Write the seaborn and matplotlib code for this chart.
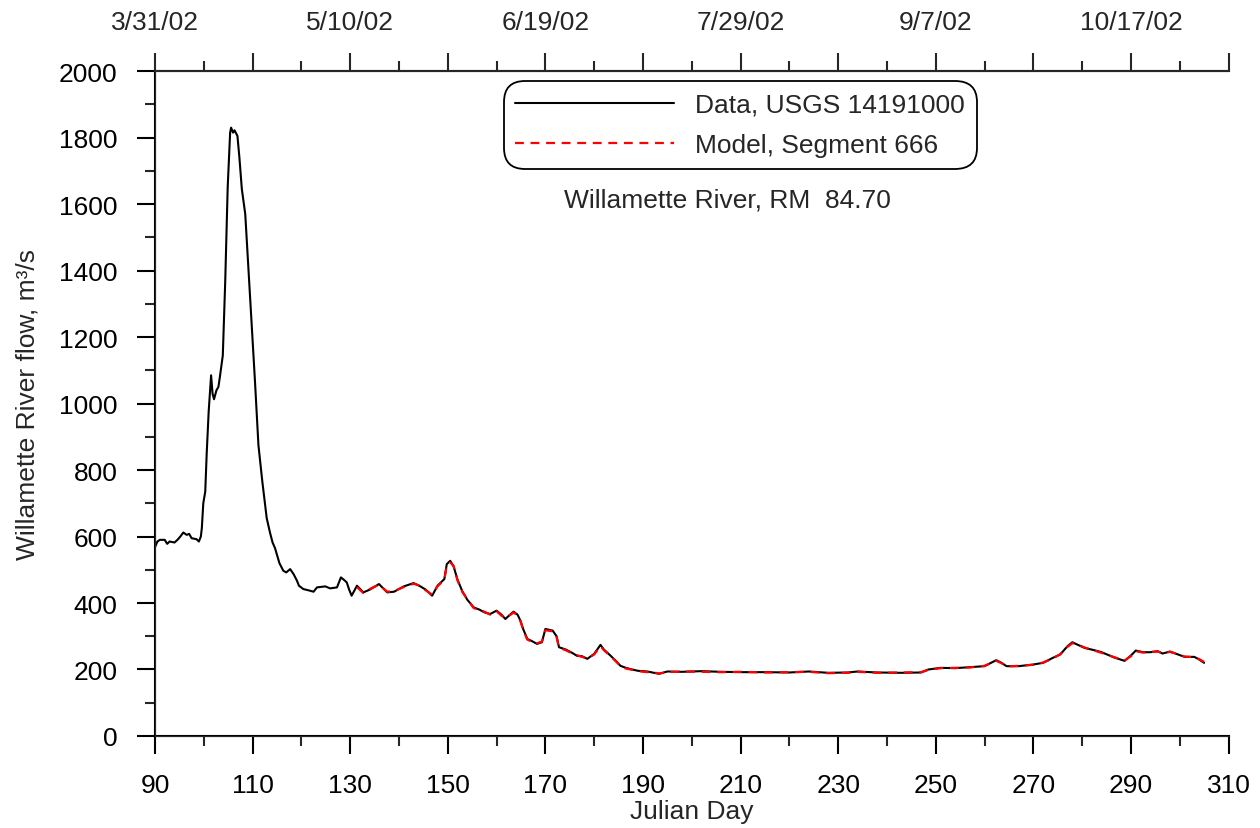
import numpy as np
import pandas as pd
import matplotlib
matplotlib.use("Agg")
import matplotlib.pyplot as plt
import seaborn as sns

data_day = [90.0, 90.5, 91.0, 92.0, 92.5, 93.0, 94.0, 94.6, 95.2, 95.8, 96.5, 97.0, 97.5, 98.5, 99.0,
            99.4, 99.6, 99.9, 100.3, 100.6, 101.0, 101.5, 101.8, 102.1, 102.6, 103.0, 103.3, 103.9,
            104.4, 104.9, 105.4, 105.6, 106.0, 106.3, 106.9, 107.3, 107.8, 108.5, 109.0, 109.6, 110.5,
            111.2, 112.0, 112.9, 113.6, 114.1, 114.6, 115.5, 116.3, 116.9, 117.7, 118.4, 119.1, 119.5,
            120.4, 121.5, 122.5, 123.2, 124.9, 125.9, 127.3, 128.1, 128.7, 129.3, 129.8, 130.3, 131.4,
            132.7, 134.0, 135.9, 137.6, 139.0, 141.0, 143.0, 144.4, 145.5, 146.8, 147.9, 149.3, 149.8,
            150.5, 151.2, 152.0, 153.0, 154.0, 155.3, 156.5, 157.5, 158.7, 160.0, 161.0, 161.8, 163.0,
            163.5, 164.3, 164.9, 165.5, 166.3, 167.3, 168.3, 169.3, 170.0, 171.5, 172.3, 172.8, 174.2,
            175.5, 176.5, 177.5, 178.6, 180.0, 181.3, 182.0, 183.4, 184.5, 185.4, 186.5, 187.5, 189.0,
            190.9, 192.3, 193.3, 195.0, 198.0, 202.0, 206.0, 210.0, 215.0, 220.0, 224.0, 228.0, 232.0,
            234.0, 238.0, 243.0, 247.0, 248.5, 251.0, 254.0, 257.0, 260.0, 262.4, 263.5, 264.5, 267.0,
            270.0, 272.0, 274.0, 275.5, 277.0, 278.0, 279.0, 280.5, 282.5, 284.0, 286.6, 288.7, 290.0,
            291.0, 292.5, 294.0, 295.5, 296.5, 298.0, 299.5, 301.0, 303.0, 304.0, 305.0]
data_flow = [568, 585, 590, 590, 578, 585, 582, 590, 600, 612, 605, 608, 595, 592, 585,
             600, 625, 700, 735, 850, 975, 1085, 1030, 1013, 1040, 1050, 1080, 1145,
             1370, 1650, 1815, 1830, 1815, 1822, 1805, 1740, 1645, 1570, 1445, 1290, 1065,
             875, 765, 655, 610, 582, 565, 520, 497, 492, 502, 487, 467, 452,
             442, 438, 434, 447, 450, 444, 447, 477, 470, 462, 440, 422, 452,
             432, 440, 457, 432, 434, 450, 460, 450, 440, 422, 452, 472, 517,
             527, 510, 470, 435, 410, 387, 380, 372, 367, 377, 365, 352, 368,
             374, 365, 347, 320, 292, 285, 277, 282, 322, 317, 300, 267, 260,
             250, 241, 240, 232, 247, 274, 260, 241, 225, 211, 205, 201, 196,
             194, 190, 187, 194, 193, 195, 193, 192, 192, 191, 194, 190, 191,
             194, 191, 190, 191, 200, 205, 204, 207, 210, 228, 220, 210, 210,
             215, 220, 235, 245, 270, 282, 275, 265, 258, 252, 236, 226, 242,
             257, 252, 252, 255, 248, 254, 246, 238, 238, 230, 220]

# model flow (segment 666)
model_day = [131.4, 132.7, 134.0, 135.9, 137.6, 139.0, 141.0, 143.0, 144.4, 145.5, 146.8, 147.9,
             149.3, 149.8, 150.5, 151.2, 152.0, 153.0, 154.0, 155.3, 156.5, 157.5, 158.7, 160.0,
             161.0, 161.8, 163.0, 163.5, 164.3, 164.9, 165.5, 166.3, 167.3, 168.3, 169.3, 170.0,
             171.5, 172.3, 172.8, 174.2, 175.5, 176.5, 177.5, 178.6, 180.0, 181.3, 182.0, 183.4,
             184.5, 185.4, 186.5, 187.5, 189.0, 190.9, 192.3, 193.3, 195.0, 198.0, 202.0, 206.0,
             210.0, 215.0, 220.0, 224.0, 228.0, 232.0, 234.0, 238.0, 243.0, 247.0, 248.5, 251.0,
             254.0, 257.0, 260.0, 262.4, 263.5, 264.5, 267.0, 270.0, 272.0, 274.0, 275.5, 277.0,
             278.0, 279.0, 280.5, 282.5, 284.0, 286.6, 288.7, 290.0, 291.0, 292.5, 294.0, 295.5,
             296.5, 298.0, 299.5, 301.0, 303.0, 304.0, 305.0]
model_flow = [448, 430, 442, 455, 434, 436, 448, 458, 452, 438, 425, 450,
              470, 512, 522, 512, 468, 433, 412, 385, 378, 374, 365, 375,
              362, 355, 366, 372, 362, 345, 318, 290, 283, 279, 284, 318,
              315, 298, 265, 258, 248, 243, 238, 233, 245, 270, 258, 240,
              224, 210, 203, 200, 195, 192, 191, 188, 192, 194, 193, 192,
              193, 191, 192, 193, 189, 190, 193, 190, 191, 192, 199, 204,
              205, 206, 211, 226, 219, 209, 211, 214, 221, 233, 246, 268,
              279, 276, 266, 257, 250, 237, 227, 240, 255, 251, 253, 254,
              249, 253, 247, 239, 237, 231, 223]

top_tick_days = [90, 110, 130, 150, 170, 190, 210, 230, 250, 270, 290, 310]
top_tick_labels = ["3/31/02", "", "5/10/02", "", "6/19/02", "", "7/29/02", "",
                   "9/7/02", "", "10/17/02", ""]

sns.set_style("ticks")
plt.rcParams["font.family"] = ["Liberation Sans", "DejaVu Sans"]
FS = 19

fig = plt.figure(figsize=(12.6, 8.29), dpi=100)
ax = fig.add_axes([0.123, 0.111, 0.852, 0.802])

sns.lineplot(x=data_day, y=data_flow, color="black", lw=1.5, sort=False, estimator=None,
             label="Data, USGS 14191000", ax=ax)
sns.lineplot(x=model_day, y=model_flow, color="red", lw=1.6, linestyle=(0, (4, 3)), sort=False,
             estimator=None, label="Model, Segment 666", ax=ax)

ax.set_xlim(90, 310)
ax.set_ylim(0, 2000)
ax.set_xticks(np.arange(90, 311, 20))
ax.set_xticks(np.arange(100, 311, 20), minor=True)
ax.set_yticks(np.arange(0, 2001, 200))
ax.set_yticks(np.arange(100, 2000, 200), minor=True)

for s in ["top", "bottom", "left"]:
    ax.spines[s].set_linewidth(1.5)
    ax.spines[s].set_color("black")
ax.spines["right"].set_visible(False)

ax.tick_params(which="major", direction="out", length=13, width=1.5, labelsize=FS, pad=14, colors="black")
ax.tick_params(which="minor", direction="out", length=7, width=1.5)

# top date axis
top = ax.twiny()
top.set_xlim(ax.get_xlim())
top.set_xticks(top_tick_days)
top.set_xticklabels(top_tick_labels)
top.set_xticks(np.arange(100, 311, 20), minor=True)
top.spines["right"].set_visible(False)
top.spines["top"].set_linewidth(1.5)
top.tick_params(which="major", direction="out", length=13, width=1.5, labelsize=FS, pad=14)
top.tick_params(which="minor", direction="out", length=7, width=1.5)

ax.set_xlabel("Julian Day", fontsize=FS)
ax.set_ylabel("Willamette River flow, m³/s", fontsize=FS)
ax.xaxis.set_label_coords(0.5, -0.095)
ax.yaxis.set_label_coords(-0.108, 0.5)

ax.text(0.533, 0.807, "Willamette River, RM  84.70", transform=ax.transAxes,
        ha="center", va="center", fontsize=FS)

leg = ax.legend(loc="upper center", bbox_to_anchor=(0.545, 0.985), fontsize=FS,
                handlelength=6.0, frameon=True, fancybox=True, borderpad=0.45,
                labelspacing=0.6, handletextpad=0.8, borderaxespad=0)
leg.get_frame().set_edgecolor("black")
leg.get_frame().set_linewidth(1.3)
leg.get_frame().set_alpha(1)
leg.get_frame().set_boxstyle("round", pad=0, rounding_size=0.8)

fig.savefig("out.png", dpi=100)
